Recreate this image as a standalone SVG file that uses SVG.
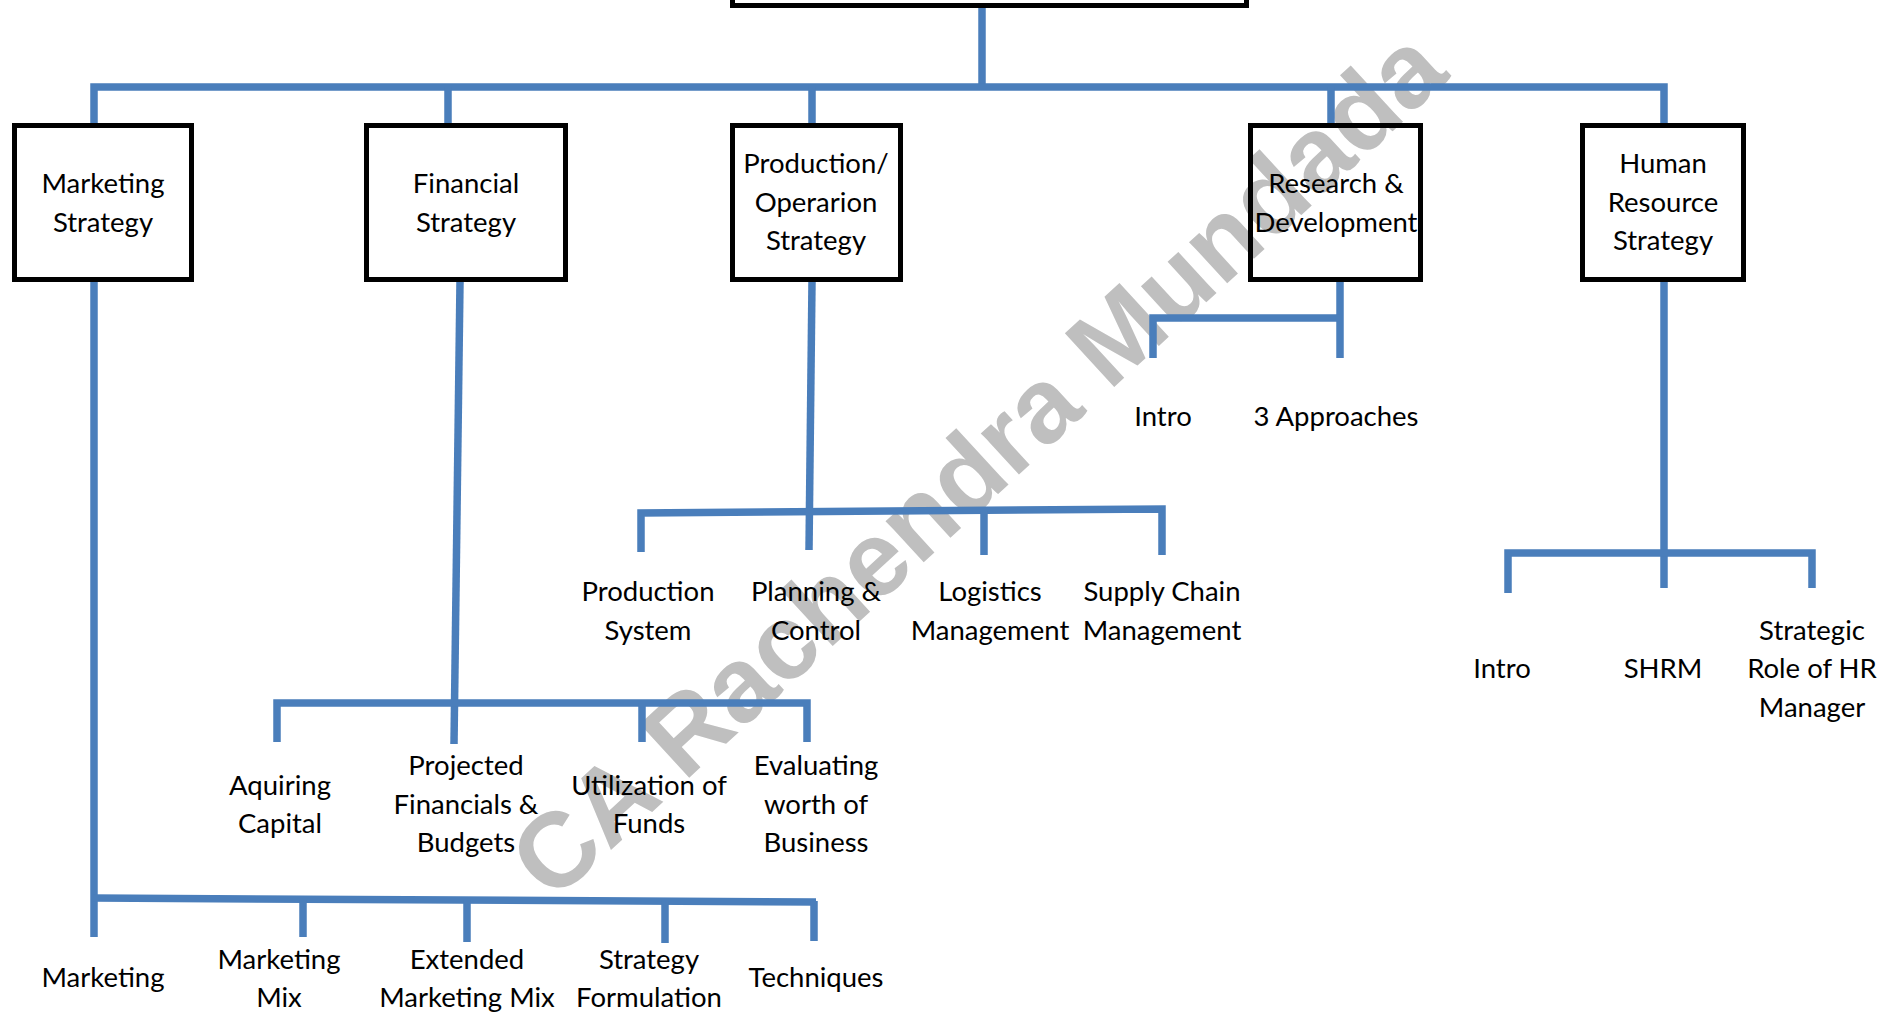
<svg xmlns="http://www.w3.org/2000/svg" width="1887" height="1012" viewBox="0 0 1887 1012">
<style>
.box{fill:none;stroke:#000;stroke-width:5}
.c{fill:none;stroke:#4a7ebb;stroke-width:7.5;stroke-linejoin:miter;stroke-linecap:butt}
text{font-family:Lato,"Open Sans","Liberation Sans",sans-serif;font-size:27.5px;fill:#000;text-anchor:middle}
.wm{font-family:"Liberation Sans",Arial,sans-serif;font-weight:bold;font-size:106px;fill:#bfbfbf;dominant-baseline:central}
</style>
<rect width="1887" height="1012" fill="#fff"/>
<text class="wm" x="977" y="463" transform="rotate(-42.6 977 463)">CA Rachendra Mundada</text>
<g id="connectors">
<path class="c" d="M982 6 V87"/>
<path class="c" d="M94 123 V87 H1664 V123"/>
<path class="c" d="M448 87 V123 M812 87 V123 M1331 87 V123"/>
<path class="c" d="M94 282 V937"/>
<path class="c" d="M93 898 L816 902"/>
<path class="c" d="M303 900 V937 M467 900 V942 M665 901 V943 M814 901 V941"/>
<path class="c" d="M460 282 L454 744"/>
<path class="c" d="M277 742 V703 H807 V742"/>
<path class="c" d="M642 703 V742"/>
<path class="c" d="M812 282 L809 550"/>
<path class="c" d="M641 552 V513 L1162 509 V555"/>
<path class="c" d="M984 511 V555"/>
<path class="c" d="M1340 282 V358"/>
<path class="c" d="M1153 358 V318 H1340"/>
<path class="c" d="M1664 282 V588"/>
<path class="c" d="M1508 593 V553 H1812 V588"/>
</g>
<g id="root"><rect class="box" x="732.5" y="-20" width="514" height="25.5"/></g>
<g id="marketing-strategy"><rect class="box" x="14.5" y="125.5" width="177" height="154"/><text x="103" y="193">Marketing</text><text x="103" y="231.5">Strategy</text></g>
<g id="financial-strategy"><rect class="box" x="366.5" y="125.5" width="199" height="154"/><text x="466" y="193">Financial</text><text x="466" y="231.5">Strategy</text></g>
<g id="production-strategy"><rect class="box" x="732.5" y="125.5" width="168" height="154"/><text x="816" y="173">Production/</text><text x="816" y="211.5">Operarion</text><text x="816" y="250">Strategy</text></g>
<g id="research-development"><rect class="box" x="1250.5" y="125.5" width="170" height="154"/><text x="1336" y="193">Research &amp;</text><text x="1336" y="231.5">Development</text></g>
<g id="hr-strategy"><rect class="box" x="1582.5" y="125.5" width="161" height="154"/><text x="1663" y="173">Human</text><text x="1663" y="211.5">Resource</text><text x="1663" y="250">Strategy</text></g>
<g id="rd-intro"><text x="1163" y="426">Intro</text></g>
<g id="rd-approaches"><text x="1336" y="426">3 Approaches</text></g>
<g id="production-system"><text x="648" y="601">Production</text><text x="648" y="639.5">System</text></g>
<g id="planning-control"><text x="816" y="601">Planning &amp;</text><text x="816" y="639.5">Control</text></g>
<g id="logistics"><text x="990" y="601">Logistics</text><text x="990" y="639.5">Management</text></g>
<g id="supply-chain"><text x="1162" y="601">Supply Chain</text><text x="1162" y="639.5">Management</text></g>
<g id="hr-intro"><text x="1502" y="678">Intro</text></g>
<g id="shrm"><text x="1663" y="678">SHRM</text></g>
<g id="hr-role"><text x="1812" y="639.5">Strategic</text><text x="1812" y="678">Role of HR</text><text x="1812" y="716.5">Manager</text></g>
<g id="aquiring-capital"><text x="280" y="794.5">Aquiring</text><text x="280" y="833">Capital</text></g>
<g id="projected"><text x="466" y="775">Projected</text><text x="466" y="813.5">Financials &amp;</text><text x="466" y="852">Budgets</text></g>
<g id="utilization"><text x="649" y="794.5">Utilization of</text><text x="649" y="833">Funds</text></g>
<g id="evaluating"><text x="816" y="775">Evaluating</text><text x="816" y="813.5">worth of</text><text x="816" y="852">Business</text></g>
<g id="marketing"><text x="103" y="987">Marketing</text></g>
<g id="marketing-mix"><text x="279" y="968.5">Marketing</text><text x="279" y="1007">Mix</text></g>
<g id="extended-mix"><text x="467" y="968.5">Extended</text><text x="467" y="1007">Marketing Mix</text></g>
<g id="strategy-formulation"><text x="649" y="968.5">Strategy</text><text x="649" y="1007">Formulation</text></g>
<g id="techniques"><text x="816" y="987">Techniques</text></g>
</svg>
